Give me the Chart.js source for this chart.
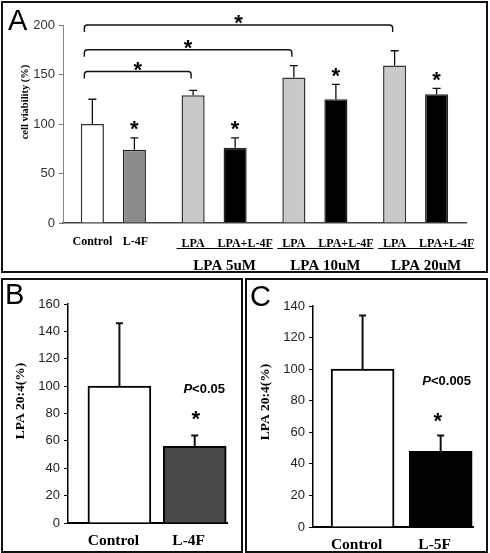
<!DOCTYPE html>
<html>
<head>
<meta charset="utf-8">
<script src="https://cdn.jsdelivr.net/npm/chart.js@4.4.1/dist/chart.umd.min.js"></script>
<style>
  html, body { margin: 0; padding: 0; background: #fff; }
  #page { position: relative; width: 490px; height: 553px; overflow: hidden; }
  .frame { position: absolute; border: 2px solid #111; box-sizing: border-box; }
  canvas { position: absolute; }
  .letter { position: absolute; font-family: "Liberation Sans", Arial, sans-serif; font-size: 29px; line-height: 1; color: #000; }
</style>
</head>
<body>
<div id="page">
  <div class="frame" style="left:1px;top:1px;width:487px;height:272px"></div>
  <div class="frame" style="left:1px;top:278px;width:242px;height:275px"></div>
  <div class="frame" style="left:245px;top:278px;width:243px;height:275px"></div>
  <canvas id="chartA" width="490" height="276" style="left:0;top:0"></canvas>
  <canvas id="chartB" width="243" height="274" style="left:0;top:279px"></canvas>
  <canvas id="chartC" width="245" height="274" style="left:245px;top:279px"></canvas>
  <div class="letter" style="left:8px;top:6px">A</div>
  <div class="letter" style="left:5px;top:280px">B</div>
  <div class="letter" style="left:250px;top:282px">C</div>
</div>

<script>
// ----- DATA -----
// panel A : cell viability
const groupLabels = ['', 'LPA 5uM', 'LPA 10uM', 'LPA 20uM'];
const firstBarLabels = ['Control', 'LPA', 'LPA', 'LPA'];
const secondBarLabels = ['L-4F', 'LPA+L-4F', 'LPA+L-4F', 'LPA+L-4F'];
const firstBarValues = [100, 129, 147, 159];
const firstBarErrors = [25, 5, 12, 15];
const secondBarValues = [74, 76, 125, 130];
const secondBarErrors = [12, 10, 15, 6];
const ticksA = [0, 50, 100, 150, 200];
const bracketGroups = [1, 2, 3];        // groups compared with Control
const bracketLevels = [153, 175, 200];

// panel B : LPA 20:4 after L-4F
const labelsB = ['Control', 'L-4F'];
const valuesB = [100, 56];
const errorsB = [46, 8];
const ticksB = [0, 20, 40, 60, 80, 100, 120, 140, 160];
const pTextB = 'P<0.05';

// panel C : LPA 20:4 after L-5F
const labelsC = ['Control', 'L-5F'];
const valuesC = [100, 48];
const errorsC = [34, 10];
const ticksC = [0, 20, 40, 60, 80, 100, 120, 140];
const pTextC = 'P<0.005';


// ----- HELPERS -----
const serifBold = px => `bold ${px}px "Liberation Serif", "Times New Roman", serif`;
const sansBold = px => `bold ${px}px "Liberation Sans", Arial, sans-serif`;

function drawStar(ctx, x, y) {
    ctx.save();
    ctx.fillStyle = '#000';
    ctx.font = sansBold(22);
    ctx.textAlign = 'center';
    ctx.textBaseline = 'alphabetic';
    ctx.fillText('*', x, y + 12);
    ctx.restore();
}

function drawErrorBars(chart, errors, lineWidth, cap) {
    const ctx = chart.ctx;
    const yScale = chart.scales.y;
    ctx.save();
    ctx.strokeStyle = '#111';
    ctx.lineWidth = lineWidth;
    errors.forEach((errs, d) => {
        chart.getDatasetMeta(d).data.forEach((bar, i) => {
            const raw = chart.data.datasets[d].data[i];
            const value = typeof raw === 'object' ? raw.y : raw;
            const yTop = yScale.getPixelForValue(value + errs[i]);
            ctx.beginPath();
            ctx.moveTo(bar.x, bar.y);
            ctx.lineTo(bar.x, yTop);
            ctx.moveTo(bar.x - cap / 2, yTop);
            ctx.lineTo(bar.x + cap / 2, yTop);
            ctx.stroke();
        });
    });
    ctx.restore();
}

function drawYTitle(ctx, text, font, cx, cy) {
    ctx.save();
    ctx.translate(cx, cy);
    ctx.rotate(-Math.PI / 2);
    ctx.font = font;
    ctx.fillStyle = '#000';
    ctx.textAlign = 'center';
    ctx.textBaseline = 'middle';
    ctx.fillText(text, 0, 0);
    ctx.restore();
}

function drawPText(ctx, text, cx, cy) {
    const italic = 'italic ' + sansBold(13);
    const bold = sansBold(13);
    const head = text.charAt(0);
    const rest = text.slice(1);
    ctx.save();
    ctx.fillStyle = '#000';
    ctx.font = italic;
    const w1 = ctx.measureText(head).width;
    ctx.font = bold;
    const w2 = ctx.measureText(rest).width;
    const x = cx - (w1 + w2) / 2;
    ctx.textAlign = 'left';
    ctx.textBaseline = 'alphabetic';
    ctx.font = italic;
    ctx.fillText(head, x, cy + 4.7);
    ctx.font = bold;
    ctx.fillText(rest, x + w1, cy + 4.7);
    ctx.restore();
}


// ----- PANEL A -----
const panelAExtras = {
    id: 'panelAExtras',
    afterDatasetsDraw(chart) {
        const ctx = chart.ctx;
        const y = chart.scales.y;
        const first = chart.getDatasetMeta(0).data;
        const second = chart.getDatasetMeta(1).data;

        drawErrorBars(chart, [firstBarErrors, secondBarErrors], 1.3, 8);

        // stars over the L-4F bars
        second.forEach((bar, i) => {
            drawStar(ctx, bar.x, y.getPixelForValue(secondBarValues[i] + secondBarErrors[i]) - 13.5);
        });

        // brackets Control vs LPA
        ctx.save();
        ctx.strokeStyle = '#111';
        ctx.lineWidth = 1.4;
        bracketGroups.forEach((g, k) => {
            const x1 = first[0].x - 8;
            const x2 = first[g].x - 2;
            const by = y.getPixelForValue(bracketLevels[k]);
            const drop = 7, r = 3;
            ctx.beginPath();
            ctx.moveTo(x1, by + drop);
            ctx.arcTo(x1, by, x2, by, r);
            ctx.arcTo(x2, by, x2, by + drop, r);
            ctx.lineTo(x2, by + drop);
            ctx.stroke();
            drawStar(ctx, (x1 + x2) / 2, by - 7);
        });
        ctx.restore();
    },
    afterDraw(chart) {
        const ctx = chart.ctx;
        const axisY = chart.scales.x.top;
        const first = chart.getDatasetMeta(0).data;
        const second = chart.getDatasetMeta(1).data;

        ctx.save();
        ctx.fillStyle = '#000';
        ctx.strokeStyle = '#000';
        ctx.textBaseline = 'alphabetic';
        ctx.textAlign = 'center';

        groupLabels.forEach((group, i) => {
            ctx.font = serifBold(12);
            const ly = axisY + (group ? 20 : 18) + 4;
            const x1 = first[i].x;
            const x2 = second[i].x + (group ? 10 : 1);
            ctx.fillText(firstBarLabels[i], x1, ly);
            ctx.fillText(secondBarLabels[i], x2, ly);
            if (!group) return;

            const left = x1 - ctx.measureText(firstBarLabels[i]).width / 2 - 5;
            const right = x2 + ctx.measureText(secondBarLabels[i]).width / 2;
            ctx.lineWidth = 1;
            ctx.beginPath();
            ctx.moveTo(left, axisY + 25.5);
            ctx.lineTo(right, axisY + 25.5);
            ctx.stroke();

            ctx.font = serifBold(15);
            ctx.fillText(group, (left + right) / 2, axisY + 42 + 5);
        });
        ctx.restore();

        drawYTitle(ctx, 'cell viability (%)', serifBold(10.5), 25, 102);
    }
};

new Chart(document.getElementById('chartA'), {
    type: 'bar',
    data: {
        labels: groupLabels,
        datasets: [
            {
                data: firstBarValues,
                backgroundColor: ['#ffffff', '#c9c9c9', '#c9c9c9', '#c9c9c9'],
                borderColor: '#333',
                borderWidth: 1.5,
                categoryPercentage: 0.834,
                barPercentage: 0.55
            },
            {
                data: secondBarValues,
                backgroundColor: ['#8a8a8a', '#000000', '#000000', '#000000'],
                borderColor: '#222',
                borderWidth: 1.5,
                categoryPercentage: 0.834,
                barPercentage: 0.55
            }
        ]
    },
    options: {
        responsive: false,
        animation: false,
        devicePixelRatio: 1,
        layout: { padding: { top: 25, right: 24, left: 0, bottom: 0 } },
        plugins: { legend: { display: false }, tooltip: { enabled: false } },
        scales: {
            x: {
                grid: { display: false },
                border: { color: '#444', width: 1.5 },
                ticks: { display: false },
                afterFit: s => { s.height = 53; }
            },
            y: {
                min: ticksA[0],
                max: ticksA[ticksA.length - 1],
                afterBuildTicks: s => { s.ticks = ticksA.map(v => ({ value: v })); },
                ticks: { font: { family: '"Liberation Sans", Arial, sans-serif', size: 13 }, color: '#333', padding: 4 },
                grid: { drawOnChartArea: false, tickLength: 4, color: '#777' },
                border: { color: '#888', width: 1 },
                afterFit: s => { s.width = 63; }
            }
        }
    },
    plugins: [panelAExtras]
});


// ----- PANELS B and C -----
function makeSmallPanel(canvasId, labels, values, errors, ticks, fill, pText, look) {
    const extras = {
        id: 'extras' + canvasId,
        afterDatasetsDraw(chart) {
            const ctx = chart.ctx;
            const y = chart.scales.y;
            drawErrorBars(chart, [errors], 2, 7);
            const bar = chart.getDatasetMeta(0).data[1];
            const starY = y.getPixelForValue(values[1] + errors[1]) - look.starGap;
            drawStar(ctx, bar.x + look.starDx, starY);
            drawPText(ctx, pText, bar.x + look.pDx, starY - look.pGap);
        },
        afterDraw(chart) {
            drawYTitle(chart.ctx, 'LPA 20:4(%)', serifBold(13.5), 21, look.titleY);
        }
    };

    return new Chart(document.getElementById(canvasId), {
        type: 'bar',
        data: {
            datasets: [{
                data: values.map((v, i) => ({ x: i, y: v })),
                backgroundColor: fill,
                borderColor: '#000',
                borderWidth: 2,
                barThickness: 63
            }]
        },
        options: {
            responsive: false,
            animation: false,
            devicePixelRatio: 1,
            layout: { padding: { top: look.top, right: look.right, left: 0, bottom: 0 } },
            plugins: { legend: { display: false }, tooltip: { enabled: false } },
            scales: {
                x: {
                    type: 'linear',
                    offset: false,
                    min: look.xMin,
                    max: look.xMax,
                    grid: { display: false },
                    border: { color: '#000', width: 2 },
                    afterBuildTicks: s => { s.ticks = labels.map((l, i) => ({ value: i })); },
                    ticks: {
                        callback: v => labels[v],
                        font: { family: '"Liberation Serif", "Times New Roman", serif', size: 15.5, weight: 'bold' },
                        color: '#000',
                        padding: 1,
                        labelOffset: -6
                    },
                    afterFit: s => { s.height = look.xHeight; }
                },
                y: {
                    min: 0,
                    max: ticks[ticks.length - 1],
                    ticks: {
                        stepSize: 10,
                        callback: v => ticks.includes(v) ? v : '',
                        font: { family: '"Liberation Sans", Arial, sans-serif', size: 13 },
                        color: '#222',
                        padding: 4
                    },
                    grid: { drawOnChartArea: false, tickLength: 4, color: '#000' },
                    border: { color: '#000', width: 1.5 },
                    afterFit: s => { s.width = 68; }
                }
            }
        },
        plugins: [extras]
    });
}

makeSmallPanel('chartB', labelsB, valuesB, errorsB, ticksB, ['#ffffff', '#484848'], pTextB, {
    top: 25, right: 16, xHeight: 30, xMin: -0.683, xMax: 1.429,
    starGap: 21, starDx: 1, pGap: 26, pDx: 9.5, titleY: 122
});

makeSmallPanel('chartC', labelsC, valuesC, errorsC, ticksC, ['#ffffff', '#000000'], pTextC, {
    top: 27, right: 17, xHeight: 26, xMin: -0.635, xMax: 1.414,
    starGap: 19, starDx: -3, pGap: 36, pDx: 6, titleY: 123
});
</script>
</body>
</html>
